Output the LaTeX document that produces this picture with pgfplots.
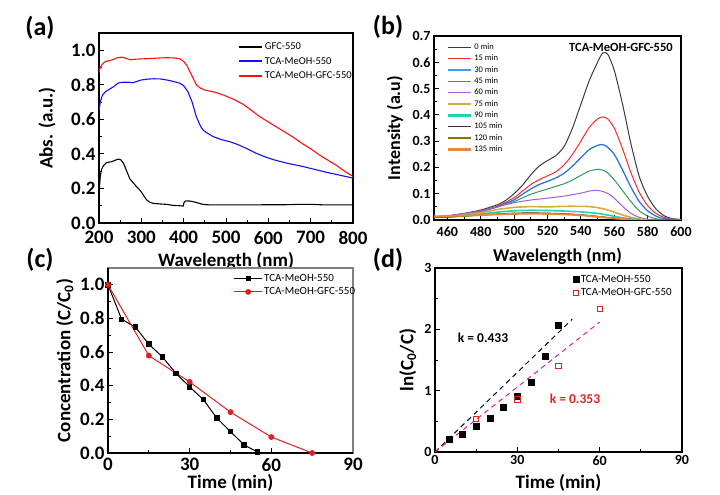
\documentclass[border=0pt]{standalone}
\usepackage{fontspec}
\setmainfont{Carlito}
\usepackage{pgfplots}
\pgfplotsset{compat=1.18}
\definecolor{cz}{HTML}{3A3A3A}
\definecolor{cr}{HTML}{FF2A2A}
\definecolor{cb}{HTML}{2F74DC}
\definecolor{cbl}{HTML}{3F9AF0}
\definecolor{cg}{HTML}{2B9A5B}
\definecolor{cp}{HTML}{A25CE0}
\definecolor{cy}{HTML}{D6AC3A}
\definecolor{cc}{HTML}{1FD4B4}
\definecolor{cd}{HTML}{4A2B2B}
\definecolor{co}{HTML}{8B7300}
\definecolor{cn}{HTML}{E8863A}
\definecolor{fitm}{HTML}{E0208A}
\definecolor{redm}{HTML}{E02020}
\definecolor{lblue}{HTML}{1010FF}
\definecolor{lred}{HTML}{FF1010}
\pgfplotsset{
 myaxis/.style={
  scale only axis, anchor=south west,
  axis line style={line width=1.3pt},
  every tick/.style={black, line width=0.9pt},
  major tick length=5pt, minor tick length=3pt,
  tick align=inside,
  xtick pos=left, ytick pos=left,
  minor x tick num=1, minor y tick num=1,
  /pgf/number format/assume math mode=true,
  label style={font=\bfseries\fontsize{19}{22}\selectfont},
  legend cell align=left,
 },
 big ticks/.style={tick label style={font=\bfseries\fontsize{19}{20}\selectfont}},
 small ticks/.style={tick label style={font=\bfseries\fontsize{14}{15}\selectfont}},
 onedec/.style={yticklabel style={/pgf/number format/.cd,fixed,fixed zerofill,precision=1}},
}
\newcommand{\legline}[2]{\addlegendimage{legend image code/.code={\draw[#1] (0pt,0pt) -- (23pt,0pt);}}\addlegendentry{#2}}
\begin{document}
\begin{tikzpicture}
\useasboundingbox (0pt,0pt) rectangle (720pt,495pt);
% ---------------- (a)
\begin{axis}[myaxis, big ticks, onedec,
  at={(99pt,272pt)}, width=254pt, height=190pt,
  xmin=200, xmax=800, ymin=0, ymax=1.1,
  xtick={200,300,...,800}, ytick={0,0.2,...,1.0},
  xticklabel style={yshift=-5pt},
  xlabel={Wavelength (nm)}, ylabel={Abs. (a.u.)},
  xlabel style={at={(axis description cs:0.5,-0.2)}, anchor=center},
  ylabel style={at={(axis description cs:-0.205,0.5)}, anchor=center},
  legend style={at={(0.535,0.97)}, anchor=north west, draw=none, fill=none,
    font=\fontsize{10.5}{11}\selectfont, row sep=2pt, nodes={inner sep=2pt}},
]
\legline{black, line width=1.4pt}{GFC-550}
\legline{lblue, line width=1.8pt}{TCA-MeOH-550}
\legline{lred, line width=1.8pt}{TCA-MeOH-GFC-550}
\addplot[black, line width=1.1pt, forget plot] coordinates {(200,0.14) (201,0.2) (203,0.27) (206,0.31) (210,0.33) (218,0.35) (230,0.355) (240,0.365) (246,0.37) (252,0.365) (258,0.345) (263,0.315) (268,0.285) (273,0.255) (280,0.235) (287,0.215) (293,0.2) (300,0.18) (305,0.16) (312,0.135) (320,0.12) (330,0.113) (345,0.11) (360,0.108) (375,0.102) (390,0.1) (399,0.098) (401,0.12) (405,0.128) (415,0.127) (425,0.122) (435,0.115) (445,0.108) (460,0.105) (550,0.105) (650,0.106) (670,0.108) (700,0.108) (730,0.105) (800,0.105)};
\addplot[lblue, line width=1.1pt, forget plot] coordinates {(200,0.65) (203,0.7) (208,0.74) (215,0.76) (225,0.775) (235,0.79) (245,0.81) (255,0.815) (270,0.815) (280,0.812) (290,0.82) (300,0.828) (315,0.833) (330,0.835) (345,0.834) (360,0.828) (375,0.82) (390,0.81) (400,0.795) (410,0.76) (420,0.7) (430,0.615) (440,0.56) (447,0.535) (455,0.522) (470,0.5) (490,0.482) (510,0.47) (530,0.452) (550,0.43) (570,0.405) (590,0.385) (610,0.368) (630,0.355) (650,0.343) (680,0.328) (710,0.31) (740,0.292) (770,0.276) (800,0.26)};
\addplot[lred, line width=1.1pt, forget plot] coordinates {(200,0.87) (203,0.9) (208,0.92) (215,0.935) (225,0.94) (235,0.948) (245,0.958) (255,0.96) (265,0.952) (275,0.945) (285,0.948) (300,0.95) (320,0.952) (340,0.955) (360,0.957) (380,0.955) (392,0.95) (400,0.935) (408,0.91) (415,0.875) (422,0.84) (430,0.8) (440,0.78) (450,0.77) (479,0.754) (500,0.735) (518,0.716) (540,0.688) (557,0.658) (580,0.615) (600,0.585) (620,0.555) (640,0.525) (660,0.495) (680,0.46) (700,0.43) (720,0.395) (740,0.365) (760,0.335) (780,0.3) (800,0.27)};
\end{axis}
% ---------------- (b)
\begin{axis}[myaxis, small ticks, onedec,
  at={(434pt,275pt)}, width=247pt, height=184pt,
  xmin=452, xmax=600, ymin=0, ymax=0.7,
  xtick={460,480,...,600}, ytick={0,0.1,...,0.7},
  xticklabel style={yshift=-3pt},
  xlabel={Wavelength (nm)}, ylabel={Intensity (a.u)},
  label style={font=\bfseries\fontsize{18}{20}\selectfont},
  xlabel style={at={(axis description cs:0.5,-0.2)}, anchor=center},
  ylabel style={at={(axis description cs:-0.158,0.5)}, anchor=center},
  legend style={at={(0.04,0.978)}, anchor=north west, draw=none, fill=none,
    font=\fontsize{8.5}{9}\selectfont, row sep=1.2pt, nodes={inner sep=1.4pt}},
  every axis plot/.append style={smooth, tension=0.4, forget plot},
]
\legline{cz, line width=1.2pt}{0 min}
\legline{cr, line width=1.2pt}{15 min}
\legline{cbl, line width=2.6pt}{30 min}
\legline{cg, line width=1.6pt}{45 min}
\legline{cp, line width=1.2pt}{60 min}
\legline{cy, line width=2.6pt}{75 min}
\legline{cc, line width=2.6pt}{90 min}
\legline{cd, line width=1.2pt}{105 min}
\legline{co, line width=1.6pt}{120 min}
\legline{cn, line width=2.8pt}{135 min}
\addplot[cz, line width=1pt] coordinates {(452,0.012) (460,0.015) (470,0.025) (480,0.038) (490,0.058) (495,0.075) (500,0.1) (505,0.132) (510,0.172) (515,0.205) (520,0.226) (525,0.245) (530,0.28) (535,0.35) (540,0.44) (545,0.53) (550,0.6) (553,0.635) (556,0.632) (560,0.57) (565,0.44) (570,0.29) (575,0.165) (580,0.09) (585,0.042) (590,0.016) (595,0.005) (600,0.002)};
\addplot[cr, line width=1pt] coordinates {(452,0.012) (460,0.015) (470,0.024) (480,0.035) (490,0.053) (500,0.085) (505,0.11) (510,0.135) (515,0.153) (520,0.168) (525,0.183) (530,0.21) (535,0.25) (540,0.3) (545,0.352) (550,0.385) (553,0.392) (556,0.385) (560,0.35) (565,0.27) (570,0.18) (575,0.105) (580,0.055) (585,0.025) (590,0.01) (595,0.003) (600,0.001)};
\addplot[cb, line width=1.3pt] coordinates {(452,0.012) (460,0.015) (470,0.023) (480,0.033) (490,0.05) (500,0.077) (505,0.098) (510,0.118) (515,0.135) (520,0.147) (525,0.16) (530,0.178) (535,0.205) (540,0.237) (545,0.268) (550,0.284) (552,0.287) (555,0.282) (560,0.25) (565,0.19) (570,0.125) (575,0.07) (580,0.035) (585,0.015) (590,0.005) (600,0.001)};
\addplot[cg, line width=1pt] coordinates {(452,0.012) (460,0.015) (470,0.022) (480,0.032) (490,0.05) (500,0.07) (510,0.098) (520,0.118) (530,0.138) (535,0.152) (540,0.17) (545,0.186) (550,0.193) (553,0.19) (556,0.18) (560,0.153) (565,0.112) (570,0.07) (575,0.035) (580,0.015) (585,0.005) (590,0.001) (600,0.0)};
\addplot[cp, line width=1pt] coordinates {(452,0.012) (460,0.016) (470,0.024) (480,0.035) (490,0.05) (500,0.066) (510,0.076) (520,0.083) (530,0.091) (540,0.102) (545,0.11) (549,0.113) (553,0.109) (557,0.098) (560,0.083) (565,0.052) (570,0.025) (575,0.01) (580,0.003) (590,0.0)};
\addplot[cy, line width=1.6pt] coordinates {(452,0.01) (460,0.013) (470,0.02) (480,0.028) (490,0.04) (500,0.048) (510,0.051) (520,0.05) (530,0.052) (540,0.052) (545,0.051) (550,0.047) (555,0.04) (560,0.03) (565,0.019) (570,0.01) (575,0.004) (580,0.001)};
\addplot[cc, line width=1.6pt] coordinates {(452,0.01) (460,0.012) (470,0.017) (480,0.023) (490,0.03) (500,0.035) (510,0.037) (520,0.036) (530,0.034) (540,0.031) (550,0.025) (555,0.02) (560,0.014) (565,0.008) (570,0.004) (575,0.001)};
\addplot[cd, line width=1pt] coordinates {(452,0.01) (460,0.011) (470,0.015) (480,0.019) (490,0.023) (500,0.026) (510,0.027) (520,0.026) (530,0.024) (540,0.02) (550,0.014) (560,0.007) (570,0.002) (575,0.0)};
\addplot[co, line width=1pt] coordinates {(452,0.01) (460,0.011) (470,0.014) (480,0.018) (490,0.022) (500,0.025) (510,0.026) (520,0.025) (530,0.023) (540,0.019) (550,0.013) (560,0.006) (570,0.002)};
\addplot[cn, line width=1.8pt] coordinates {(452,0.014) (460,0.015) (470,0.017) (480,0.019) (490,0.021) (500,0.023) (510,0.024) (520,0.023) (530,0.021) (540,0.018) (550,0.012) (560,0.006) (570,0.002) (575,0.0)};
\node[font=\bfseries\fontsize{12.5}{13}\selectfont] at (rel axis cs:0.757,0.94) {TCA-MeOH-GFC-550};
\end{axis}
% ---------------- (c)
\begin{axis}[myaxis, big ticks, onedec,
  at={(108pt,42pt)}, width=245pt, height=185pt,
  xmin=0, xmax=90, ymin=0, ymax=1.1,
  xtick={0,30,60,90}, ytick={0,0.2,...,1.0},
  xticklabel style={yshift=-2pt},
  axis line style={line width=1.3pt, gray},
  clip=false,
  xlabel={Time (min)}, ylabel={Concentration (C/C\textsubscript{0})},
  xlabel style={at={(axis description cs:0.5,-0.16)}, anchor=center},
  ylabel style={at={(axis description cs:-0.176,0.5)}, anchor=center},
  legend style={at={(0.50,0.985)}, anchor=north west, draw=none, fill=none,
    font=\fontsize{11}{12}\selectfont, row sep=1.5pt, nodes={inner sep=1.5pt}},
  legend image code/.code={\draw[mark repeat=2,mark phase=2,#1] plot coordinates {(0pt,0pt) (14pt,0pt) (28pt,0pt)};},
]
\draw[black, line width=1.3pt] (rel axis cs:0,1) -- (rel axis cs:0,0) -- (rel axis cs:1,0);
\addplot[black, line width=1pt, mark=square*, mark size=2.2pt] coordinates {(0,1.0) (5,0.795) (10,0.75) (15,0.647) (20,0.571) (25,0.473) (30,0.393) (35,0.318) (40,0.207) (45,0.127) (50,0.048) (55,0.005)};
\addlegendentry{TCA-MeOH-550}
\addplot[redm, line width=1pt, mark=*, mark size=2.4pt] coordinates {(0,1.0) (15,0.579) (30,0.423) (45,0.243) (60,0.095) (75,0.0)};
\addlegendentry{TCA-MeOH-GFC-550}
\end{axis}
% ---------------- (d)
\begin{axis}[myaxis, small ticks,
  at={(435pt,43pt)}, width=247pt, height=184pt,
  xmin=0, xmax=90, ymin=0, ymax=3,
  xtick={0,30,60,90}, ytick={0,1,2,3},
  clip=false,
  xlabel={Time (min)}, ylabel={ln(C\textsubscript{0}/C)},
  xlabel style={at={(axis description cs:0.5,-0.17)}, anchor=center},
  ylabel style={at={(axis description cs:-0.11,0.5)}, anchor=center},
  legend style={at={(0.545,0.985)}, anchor=north west, draw=none, fill=none,
    font=\fontsize{11}{12}\selectfont, row sep=1pt, nodes={inner sep=2pt}},
  legend image code/.code={\draw[mark repeat=2,mark phase=2,#1] plot coordinates {(0pt,0pt) (7pt,0pt) (14pt,0pt)};},
]
\addplot[black, only marks, mark=square*, mark size=3pt] coordinates {(5,0.21) (10,0.285) (15,0.42) (20,0.55) (25,0.73) (30,0.91) (35,1.135) (40,1.56) (45,2.065)};
\addlegendentry{TCA-MeOH-550}
\addplot[redm, only marks, mark=square, mark size=2.7pt, line width=0.8pt] coordinates {(15,0.535) (30,0.855) (45,1.40) (60,2.33)};
\addlegendentry{TCA-MeOH-GFC-550}
\addplot[black, line width=1pt, dash pattern=on 5pt off 4pt, forget plot] coordinates {(0,0) (50,2.165)};
\addplot[fitm, line width=1pt, dash pattern=on 5pt off 4pt, forget plot] coordinates {(0,0) (60,2.118)};
\node[font=\bfseries\fontsize{13.5}{14}\selectfont] at (axis cs:17.5,1.86) {k = 0.433};
\node[font=\bfseries\fontsize{13.5}{14}\selectfont, text=redm] at (axis cs:51,0.86) {k = 0.353};
\end{axis}
% panel labels
\node[font=\bfseries\fontsize{26}{26}\selectfont] at (40pt,467pt) {(a)};
\node[font=\bfseries\fontsize{26}{26}\selectfont] at (388pt,468pt) {(b)};
\node[font=\bfseries\fontsize{26}{26}\selectfont] at (40pt,235pt) {(c)};
\node[font=\bfseries\fontsize{26}{26}\selectfont] at (388pt,235pt) {(d)};
\end{tikzpicture}
\end{document}
